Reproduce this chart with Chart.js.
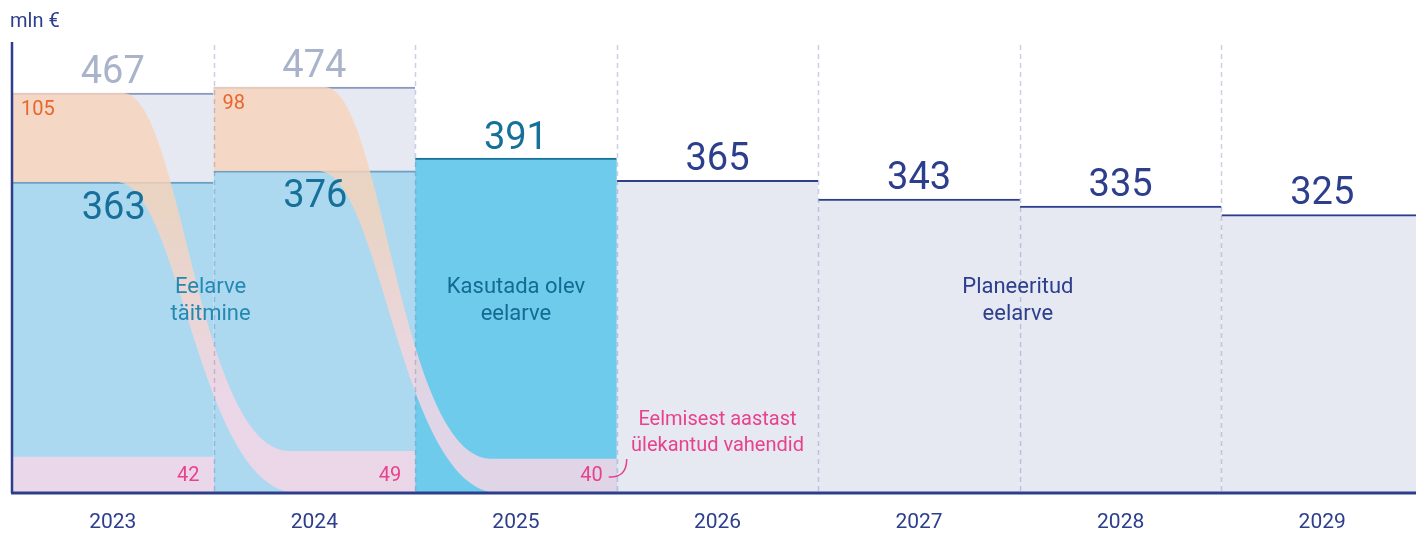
<!DOCTYPE html>
<html>
<head>
<meta charset="utf-8">
<script src="https://cdn.jsdelivr.net/npm/chart.js@4.4.1/dist/chart.umd.min.js"></script>
<style>
  html, body { margin: 0; padding: 0; background: #ffffff; overflow: hidden; }
  canvas { display: block; }
</style>
</head>
<body>
<canvas id="c" width="1424" height="534" style="width:1424px;height:534px"></canvas>
<script>
// ---- data (mln €) ----
const years = ['2023', '2024', '2025', '2026', '2027', '2028', '2029'];
const totalWithCarry = [467, 474, null, null, null, null, null];   // budget incl. unused part
const executed = [363, 376, 391, null, null, null, null];          // execution / available budget
const planned = [null, null, null, 365, 343, 335, 325];             // planned budget
const unused = [105, 98, null, null, null, null, null];             // unused, carried forward
const carriedIn = [42, 49, 40, null, null, null, null];             // carried over from previous year

const NAVY = '#2c3e8c';
const FONT = 'Roboto, "Noto Sans", sans-serif';

const grayData = years.map((_, i) => totalWithCarry[i] != null ? totalWithCarry[i] : planned[i]);
const pinkData = carriedIn.map((v, i) => (i === 0 ? v : null));

function txt(ctx, s, x, y, size, color, align) {
  ctx.save();
  ctx.font = size + 'px ' + FONT;
  ctx.fillStyle = color;
  ctx.textAlign = align || 'center';
  ctx.textBaseline = 'middle';
  ctx.fillText(s, x, y);
  ctx.restore();
}

const overlay = {
  id: 'overlay',
  afterDatasetsDraw(chart) {
    const ctx = chart.ctx;
    const xs = chart.scales.x, ys = chart.scales.y;
    const ca = chart.chartArea;
    const w = xs.getPixelForValue(1) - xs.getPixelForValue(0);
    const left = i => xs.getPixelForValue(i) - w / 2;
    const right = i => xs.getPixelForValue(i) + w / 2;
    const y0 = ys.getPixelForValue(0);

    // ribbons: unused part of year i -> carried-in part of year i+1
    for (let i = 0; i < years.length - 1; i++) {
      if (unused[i] == null || carriedIn[i + 1] == null) continue;
      const yT = ys.getPixelForValue(totalWithCarry[i]);
      const yB = ys.getPixelForValue(executed[i]);
      const yC = ys.getPixelForValue(carriedIn[i + 1]);
      const xL = left(i), xEnd = right(i + 1);
      const s1 = left(i) + 0.55 * w, e1 = left(i + 1) + 0.38 * w;
      const s2 = left(i) + 0.52 * w, e2 = left(i + 1) + 0.42 * w;
      const d1 = e1 - s1, d2 = e2 - s2;
      const g = ctx.createLinearGradient(0, yT, 0, y0);
      g.addColorStop(0, 'rgba(247,211,186,0.82)');
      g.addColorStop(0.3, 'rgba(247,211,186,0.82)');
      g.addColorStop(0.78, 'rgba(246,214,230,0.84)');
      g.addColorStop(1, 'rgba(246,214,230,0.84)');
      ctx.save();
      ctx.beginPath();
      ctx.moveTo(xL, yT);
      ctx.lineTo(s1, yT);
      ctx.bezierCurveTo(s1 + 0.35 * d1, yT, e1 - 0.55 * d1, yC, e1, yC);
      ctx.lineTo(xEnd, yC);
      ctx.lineTo(xEnd, y0);
      ctx.lineTo(e2, y0);
      ctx.bezierCurveTo(e2 - 0.55 * d2, y0, s2 + 0.35 * d2, yB, s2, yB);
      ctx.lineTo(xL, yB);
      ctx.closePath();
      ctx.fillStyle = g;
      ctx.fill();
      ctx.restore();
    }

    // dashed separators between years
    ctx.save();
    ctx.setLineDash([5, 4]);
    ctx.lineWidth = 1.5;
    ctx.strokeStyle = 'rgba(105,120,175,0.35)';
    for (let i = 0; i < years.length - 1; i++) {
      const x = Math.round(right(i)) + 0.5;
      ctx.beginPath();
      ctx.moveTo(x, ca.top);
      ctx.lineTo(x, y0);
      ctx.stroke();
    }
    ctx.restore();

    // axes lines
    ctx.save();
    ctx.strokeStyle = NAVY;
    ctx.lineWidth = 2.5;
    ctx.beginPath();
    ctx.moveTo(ca.left, ca.top - 3);
    ctx.lineTo(ca.left, y0);
    ctx.stroke();
    ctx.lineWidth = 3;
    ctx.beginPath();
    ctx.moveTo(ca.left - 1, y0);
    ctx.lineTo(ca.right + 2, y0);
    ctx.stroke();
    ctx.restore();

    // year labels (category axis)
    for (let i = 0; i < years.length; i++) {
      txt(ctx, xs.getLabelForValue(i), xs.getPixelForValue(i), y0 + 30, 21, NAVY);
    }

    // unit
    txt(ctx, 'mln €', 10, 22, 20, NAVY, 'left');

    // value labels
    for (let i = 0; i < years.length; i++) {
      const cx = xs.getPixelForValue(i);
      if (totalWithCarry[i] != null) {
        const yT = ys.getPixelForValue(totalWithCarry[i]);
        txt(ctx, String(totalWithCarry[i]), cx, yT - 19, 38, '#a9b3ca');
        txt(ctx, String(unused[i]), left(i) + 9, yT + 17, 20, '#e8662c', 'left');
        txt(ctx, String(executed[i]), cx + 1, ys.getPixelForValue(executed[i]) + 27, 38, '#17709a');
      } else if (executed[i] != null) {
        txt(ctx, String(executed[i]), cx, ys.getPixelForValue(executed[i]) - 19, 38, '#17709a');
      }
      if (planned[i] != null) {
        txt(ctx, String(planned[i]), cx, ys.getPixelForValue(planned[i]) - 20, 38, NAVY);
      }
      if (carriedIn[i] != null) {
        txt(ctx, String(carriedIn[i]), right(i) - 14, y0 - 17, 20, '#e8418e', 'right');
      }
    }

    // category annotations
    const yA = ys.getPixelForValue(240), yB2 = yA + 27;
    const b01 = right(0), b45 = right(4);
    txt(ctx, 'Eelarve', b01 - 3, yA, 22, '#2389b3');
    txt(ctx, 'täitmine', b01 - 3, yB2, 22, '#2389b3');
    const c2 = xs.getPixelForValue(2);
    txt(ctx, 'Kasutada olev', c2, yA, 22, '#146a93');
    txt(ctx, 'eelarve', c2, yB2, 22, '#146a93');
    txt(ctx, 'Planeeritud', b45 - 2, yA, 22, NAVY);
    txt(ctx, 'eelarve', b45 - 2, yB2, 22, NAVY);
    const c3 = xs.getPixelForValue(3);
    const yN = ys.getPixelForValue(85);
    txt(ctx, 'Eelmisest aastast', c3, yN, 20, '#e8418e');
    txt(ctx, 'ülekantud vahendid', c3, yN + 26, 20, '#e8418e');
    // leader line from "40" to the note
    ctx.save();
    ctx.strokeStyle = '#e8418e';
    ctx.lineWidth = 1.5;
    ctx.beginPath();
    const lx = right(2) - 8, ly = y0 - 16;
    ctx.moveTo(lx, ly);
    ctx.quadraticCurveTo(lx + 18, ly + 1, lx + 18, ly - 18);
    ctx.stroke();
    ctx.restore();
  }
};

new Chart(document.getElementById('c'), {
  type: 'bar',
  data: {
    labels: years,
    datasets: [
      {
        label: 'Ülekantud',
        data: pinkData,
        backgroundColor: '#ebd7ea',
        borderWidth: 0,
        order: 1
      },
      {
        label: 'Täitmine / kasutada olev',
        data: executed,
        backgroundColor: years.map((_, i) => (i === 2 ? '#6ecbeb' : '#acd9f0')),
        borderColor: years.map((_, i) => (i === 2 ? '#1b6f98' : '#6c9fc3')),
        borderWidth: { top: 2, right: 0, bottom: 0, left: 0 },
        borderSkipped: false,
        order: 2
      },
      {
        label: 'Eelarve',
        data: grayData,
        backgroundColor: '#e6e9f2',
        borderColor: years.map((_, i) => (i < 2 ? '#8a99bf' : NAVY)),
        borderWidth: { top: 2, right: 0, bottom: 0, left: 0 },
        borderSkipped: false,
        order: 3
      }
    ]
  },
  options: {
    responsive: false,
    animation: false,
    devicePixelRatio: 1,
    layout: { padding: { left: 12, right: 1, top: 45, bottom: 41 } },
    plugins: { legend: { display: false }, tooltip: { enabled: false } },
    datasets: { bar: { grouped: false, categoryPercentage: 1, barPercentage: 1 } },
    scales: {
      x: { display: false },
      y: { display: false, min: 0, max: 523 }
    }
  },
  plugins: [overlay]
});
</script>
</body>
</html>
